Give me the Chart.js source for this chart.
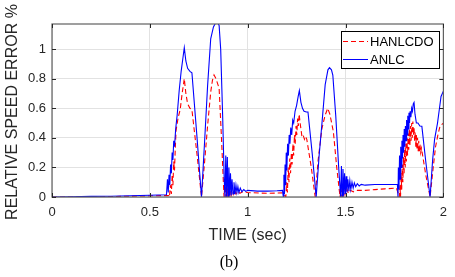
<!DOCTYPE html>
<html>
<head>
<meta charset="utf-8">
<script src="https://cdn.jsdelivr.net/npm/chart.js@4.4.1/dist/chart.umd.min.js"></script>
<style>
  html, body { margin: 0; padding: 0; background: #fff; }
  #wrap { width: 455px; height: 277px; }
</style>
</head>
<body>
<div id="wrap"><canvas id="chart"></canvas></div>
<script>
// axis ticks
const xTicks = [0, 0.5, 1, 1.5, 2];
const yTicks = [0, 0.2, 0.4, 0.6, 0.8, 1];
const seriesNames = ["HANLCDO", "ANLC"];

// ANLC (blue, solid)
const anlcTime = [
  0, 0.1, 0.2, 0.3, 0.4, 0.5, 0.585, 0.59, 0.594, 0.598,
  0.602, 0.606, 0.61, 0.614, 0.618, 0.622, 0.626, 0.632, 0.64, 0.65,
  0.66, 0.668, 0.676, 0.684, 0.693, 0.705, 0.715, 0.74, 0.764, 0.78,
  0.795, 0.811, 0.825, 0.837, 0.846, 0.854, 0.862, 0.872, 0.88, 0.884,
  0.888, 0.892, 0.896, 0.9, 0.904, 0.908, 0.912, 0.916, 0.92, 0.925,
  0.93, 0.935, 0.94, 0.945, 0.95, 0.955, 0.962, 0.97, 0.98, 0.99,
  1.0, 1.05, 1.1, 1.15, 1.178, 1.182, 1.185, 1.188, 1.191, 1.194,
  1.197, 1.2, 1.204, 1.208, 1.212, 1.216, 1.22, 1.225, 1.23, 1.235,
  1.242, 1.25, 1.258, 1.264, 1.272, 1.28, 1.288, 1.3, 1.308, 1.33,
  1.35, 1.365, 1.379, 1.396, 1.41, 1.418, 1.428, 1.435, 1.45, 1.465,
  1.475, 1.479, 1.483, 1.487, 1.491, 1.495, 1.499, 1.503, 1.507, 1.512,
  1.517, 1.522, 1.527, 1.533, 1.539, 1.545, 1.552, 1.56, 1.57, 1.58,
  1.6, 1.65, 1.7, 1.75, 1.765, 1.768, 1.77, 1.773, 1.776, 1.779,
  1.782, 1.785, 1.788, 1.791, 1.794, 1.797, 1.8, 1.803, 1.806, 1.809,
  1.812, 1.815, 1.818, 1.821, 1.824, 1.827, 1.83, 1.834, 1.838, 1.842,
  1.846, 1.85, 1.855, 1.862, 1.87, 1.88, 1.89, 1.91, 1.932, 1.945,
  1.955, 1.97, 1.98, 1.988, 2.0
];
const anlcValues = [
  0, 0.002, 0.004, 0.005, 0.008, 0.012, 0.015, 0.12, 0.03, 0.15,
  0.08, 0.22, 0.16, 0.3, 0.25, 0.38, 0.34, 0.46, 0.56, 0.72,
  0.85, 0.93, 1.01, 0.92, 0.87, 0.85, 0.84, 0.42, 0, 0.38,
  0.75, 1.07, 1.15, 1.18, 1.18, 1.16, 1.0, 0.55, 0.12, 0,
  0.28, 0, 0.27, 0, 0.2, 0.01, 0.16, 0.01, 0.12, 0.02,
  0.1, 0.02, 0.08, 0.03, 0.07, 0.03, 0.06, 0.035, 0.05, 0.038,
  0.045, 0.04, 0.04, 0.042, 0.045, 0, 0.15, 0.02, 0.22, 0.08,
  0.3, 0.18, 0.36, 0.28, 0.42, 0.36, 0.47, 0.42, 0.52, 0.5,
  0.58, 0.62, 0.68, 0.72, 0.64, 0.6, 0.58, 0.575, 0.575, 0.29,
  0, 0.28, 0.49, 0.76, 0.86, 0.875, 0.86, 0.825, 0.55, 0.2,
  0, 0.21, 0, 0.19, 0.01, 0.16, 0.02, 0.14, 0.03, 0.12,
  0.04, 0.11, 0.05, 0.1, 0.06, 0.095, 0.07, 0.09, 0.075, 0.085,
  0.08, 0.085, 0.085, 0.085, 0.085, 0, 0.2, 0.05, 0.28, 0.12,
  0.34, 0.2, 0.38, 0.26, 0.42, 0.3, 0.46, 0.34, 0.48, 0.38,
  0.52, 0.42, 0.55, 0.46, 0.57, 0.5, 0.58, 0.54, 0.6, 0.58,
  0.63, 0.64, 0.56, 0.5, 0.5, 0.48, 0.478, 0.24, 0, 0.25,
  0.39, 0.5, 0.6, 0.68, 0.716
];

// HANLCDO (red, dashed)
const hanlcdoTime = [
  0, 0.1, 0.3, 0.5, 0.595, 0.6, 0.605, 0.61, 0.614, 0.618,
  0.622, 0.626, 0.63, 0.634, 0.645, 0.655, 0.665, 0.676, 0.684, 0.693,
  0.705, 0.715, 0.74, 0.764, 0.78, 0.795, 0.811, 0.82, 0.828, 0.838,
  0.854, 0.866, 0.879, 0.884, 0.888, 0.892, 0.896, 0.9, 0.905, 0.91,
  0.915, 0.92, 0.926, 0.932, 0.94, 0.95, 0.96, 0.975, 1.0, 1.1,
  1.18, 1.195, 1.199, 1.203, 1.207, 1.211, 1.215, 1.219, 1.223, 1.227,
  1.231, 1.235, 1.239, 1.243, 1.247, 1.251, 1.255, 1.259, 1.263, 1.268,
  1.272, 1.277, 1.283, 1.29, 1.296, 1.302, 1.325, 1.345, 1.36, 1.379,
  1.395, 1.409, 1.42, 1.438, 1.455, 1.472, 1.477, 1.481, 1.486, 1.491,
  1.496, 1.502, 1.508, 1.515, 1.525, 1.54, 1.56, 1.6, 1.65, 1.7,
  1.76, 1.775, 1.778, 1.781, 1.784, 1.787, 1.79, 1.793, 1.796, 1.799,
  1.802, 1.805, 1.808, 1.811, 1.814, 1.817, 1.82, 1.823, 1.826, 1.829,
  1.832, 1.835, 1.838, 1.841, 1.844, 1.847, 1.85, 1.853, 1.856, 1.859,
  1.862, 1.865, 1.868, 1.871, 1.874, 1.877, 1.88, 1.884, 1.888, 1.91,
  1.932, 1.948, 1.96, 1.972, 1.983, 2.0
];
const hanlcdoValues = [
  0, 0, 0.003, 0.008, 0.01, 0, 0.08, 0.02, 0.15, 0.08,
  0.24, 0.18, 0.33, 0.45, 0.54, 0.59, 0.7, 0.8, 0.7, 0.63,
  0.6, 0.59, 0.3, 0, 0.24, 0.48, 0.71, 0.79, 0.825, 0.8,
  0.735, 0.4, 0, 0.1, 0, 0.09, 0, 0.08, 0.01, 0.07,
  0.01, 0.06, 0.02, 0.05, 0.02, 0.04, 0.025, 0.035, 0.03, 0.025,
  0.028, 0, 0.1, 0.03, 0.2, 0.1, 0.26, 0.16, 0.3, 0.22,
  0.36, 0.28, 0.42, 0.36, 0.48, 0.42, 0.53, 0.48, 0.56, 0.5,
  0.46, 0.41, 0.42, 0.39, 0.41, 0.39, 0.2, 0, 0.25, 0.46,
  0.55, 0.6, 0.56, 0.44, 0.2, 0, 0.06, 0, 0.06, 0.01,
  0.05, 0.02, 0.05, 0.025, 0.045, 0.035, 0.045, 0.045, 0.05, 0.055,
  0.06, 0, 0.08, 0, 0.16, 0.05, 0.22, 0.1, 0.27, 0.15,
  0.32, 0.2, 0.36, 0.24, 0.4, 0.28, 0.43, 0.32, 0.46, 0.35,
  0.48, 0.38, 0.5, 0.4, 0.51, 0.42, 0.47, 0.38, 0.44, 0.34,
  0.42, 0.32, 0.4, 0.31, 0.38, 0.3, 0.36, 0.3, 0.33, 0.15,
  0, 0.2, 0.34, 0.42, 0.48, 0.5
];

const toPoints = (ts, vs) => ts.map((t, i) => ({ x: t, y: vs[i] }));

const FONT = "'Liberation Sans', Arial, Helvetica, sans-serif";
const TEXT = "#262626";

// matlab-like box, inward ticks, axis titles, legend box
const decorations = {
  id: "decorations",
  afterDraw(chart) {
    const { ctx, chartArea: a, scales: { x, y } } = chart;
    ctx.save();

    // box
    ctx.strokeStyle = "#606060";
    ctx.lineWidth = 1.2;
    ctx.strokeRect(a.left, a.top, a.right - a.left, a.bottom - a.top);

    // inward ticks on all four sides
    ctx.strokeStyle = TEXT;
    ctx.lineWidth = 1;
    ctx.beginPath();
    xTicks.forEach(v => {
      const px = Math.round(x.getPixelForValue(v)) + 0.5;
      ctx.moveTo(px, a.bottom); ctx.lineTo(px, a.bottom - 4);
      ctx.moveTo(px, a.top); ctx.lineTo(px, a.top + 4);
    });
    yTicks.forEach(v => {
      const py = Math.round(y.getPixelForValue(v)) + 0.5;
      ctx.moveTo(a.left, py); ctx.lineTo(a.left + 4, py);
      ctx.moveTo(a.right, py); ctx.lineTo(a.right - 4, py);
    });
    ctx.stroke();

    // axis titles
    ctx.fillStyle = TEXT;
    ctx.textAlign = "center";
    ctx.textBaseline = "middle";
    ctx.font = "16px " + FONT;
    ctx.save();
    ctx.translate(13, 112);
    ctx.rotate(-Math.PI / 2);
    ctx.fillText("RELATIVE SPEED ERROR %", 0, 0);
    ctx.restore();

    ctx.fillText("TIME (sec)", (a.left + a.right) / 2, 236);

    ctx.fillStyle = "#000";
    ctx.font = "16px 'Liberation Serif', 'Times New Roman', serif";
    ctx.fillText("(b)", 229, 263);

    // legend
    const lx = 341.5, ly = 31.5, lw = 98, lh = 37;
    ctx.fillStyle = "#fff";
    ctx.fillRect(lx, ly, lw, lh);
    ctx.strokeStyle = "#000";
    ctx.lineWidth = 1;
    ctx.strokeRect(lx, ly, lw, lh);

    const rows = [
      { name: seriesNames[0], color: "#ff0000", dash: [5, 3], y: 41.5 },
      { name: seriesNames[1], color: "#0000ff", dash: [], y: 59.5 }
    ];
    ctx.textAlign = "left";
    ctx.font = "13px " + FONT;
    rows.forEach(r => {
      ctx.strokeStyle = r.color;
      ctx.setLineDash(r.dash);
      ctx.beginPath();
      ctx.moveTo(343, r.y);
      ctx.lineTo(368, r.y);
      ctx.stroke();
      ctx.setLineDash([]);
      ctx.fillStyle = "#000";
      ctx.fillText(r.name, 370, r.y + 0.5);
    });

    ctx.restore();
  }
};

new Chart(document.getElementById("chart"), {
  type: "line",
  data: {
    datasets: [
      {
        label: seriesNames[1],
        data: toPoints(anlcTime, anlcValues),
        borderColor: "#0000ff",
        borderWidth: 1.1,
        pointRadius: 0,
        tension: 0
      },
      {
        label: seriesNames[0],
        data: toPoints(hanlcdoTime, hanlcdoValues),
        borderColor: "#ff0000",
        borderWidth: 1.1,
        borderDash: [5, 3],
        pointRadius: 0,
        tension: 0
      }
    ]
  },
  plugins: [decorations],
  options: {
    responsive: true,
    maintainAspectRatio: false,
    animation: false,
    layout: {
      padding: { left: 0, top: 24, right: 10, bottom: 0 }
    },
    plugins: {
      legend: { display: false },
      tooltip: { enabled: false }
    },
    scales: {
      x: {
        type: "linear",
        min: 0,
        max: 2,
        afterBuildTicks: (scale) => { scale.ticks = xTicks.map(v => ({ value: v })); },
        afterFit: (scale) => { scale.height = 80; },
        ticks: {
          color: TEXT,
          padding: 8,
          maxRotation: 0,
          font: { size: 13, family: FONT },
          callback: (v) => String(v)
        },
        grid: { color: "#e2e2e2", drawTicks: false },
        border: { display: false }
      },
      y: {
        min: 0,
        max: 1.17,
        afterBuildTicks: (scale) => { scale.ticks = yTicks.map(v => ({ value: v })); },
        afterFit: (scale) => { scale.width = 52; },
        ticks: {
          color: TEXT,
          padding: 6,
          font: { size: 13, family: FONT },
          callback: (v) => String(v)
        },
        grid: { color: "#e2e2e2", drawTicks: false },
        border: { display: false }
      }
    }
  }
});
</script>
</body>
</html>
